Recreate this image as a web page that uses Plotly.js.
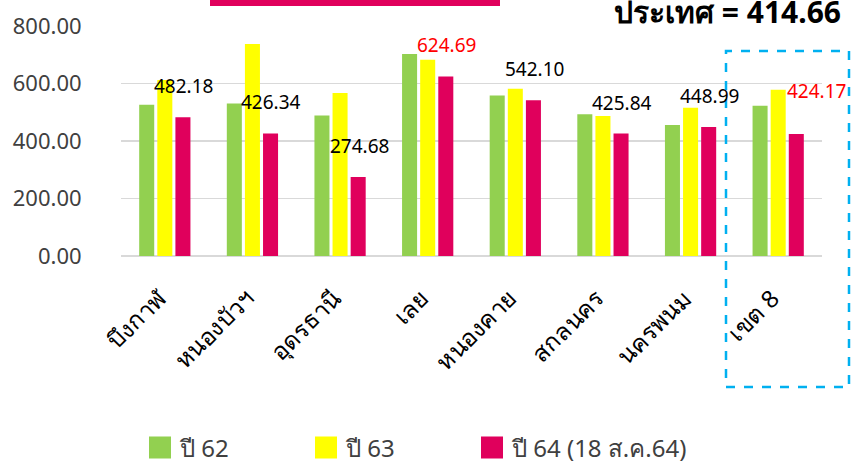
<!DOCTYPE html>
<html>
<head>
<meta charset="utf-8">
<script src="https://cdn.plot.ly/plotly-3.0.1.min.js"></script>
<style>html,body{margin:0;padding:0;background:#fff;}#chart{width:851px;height:463px;}</style>
</head>
<body>
<div id="chart"></div>
<script>
var categories = ["บึงกาฬ", "หนองบัวฯ", "อุดรธานี", "เลย", "หนองคาย", "สกลนคร", "นครพนม", "เขต 8"];
var seriesNames = ["ปี 62", "ปี 63", "ปี 64 (18 ส.ค.64)"];
var y62 = [526, 530, 489, 703, 558, 493, 456, 523];
var y63 = [612, 737, 567, 683, 582, 487, 516, 578];
var y64 = [482.18, 426.34, 274.68, 624.69, 542.10, 425.84, 448.99, 424.17];
var labelColors = ["#000000", "#000000", "#000000", "#FF0000", "#000000", "#000000", "#000000", "#FF0000"];
var countryText = "ประเทศ = 414.66";
var yTicks = [0, 200, 400, 600, 800];

var FONT = "Noto Sans, DejaVu Sans, sans-serif";
var colors = ["#92D050", "#FFFF00", "#E0005C"];
var vals = [y62, y63, y64];
var legendIds = ["legend", "legend2", "legend3"];
var legendX = [140, 306, 472];
var traces = vals.map(function (v, i) {
  return {
    type: "bar", x: categories, y: v, name: seriesNames[i],
    marker: {color: colors[i], line: {width: 0}},
    legend: legendIds[i],
    hoverinfo: "skip"
  };
});

var annotations = categories.map(function (c, i) {
  var last = i === categories.length - 1;
  return {
    x: c, y: y64[i], xref: "x", yref: "y",
    text: y64[i].toFixed(2), showarrow: false,
    xanchor: "center", yanchor: "middle",
    xshift: last ? 38 : 19, yshift: last ? 43 : 31,
    font: {family: FONT, size: 19, color: labelColors[i]}
  };
});
annotations.push({
  xref: "paper", yref: "paper", x: (843 - 121) / 701, y: 1,
  xanchor: "right", yanchor: "top", yshift: 37, showarrow: false,
  text: "<b>" + countryText + "</b>",
  font: {family: FONT, size: 30, color: "#000000"}
});

function legendCfg(px) {
  return {
    orientation: "h", x: (px - 121) / 701, xanchor: "left",
    y: 1 - (448 - 26) / 230, yanchor: "middle",
    font: {family: FONT, size: 24, color: "#404040"},
    bgcolor: "rgba(0,0,0,0)"
  };
}

var layout = {
  width: 851, height: 463,
  margin: {l: 121, r: 29, t: 26, b: 207, autoexpand: false},
  paper_bgcolor: "#ffffff", plot_bgcolor: "#ffffff",
  barmode: "group", bargap: 0.38, bargroupgap: 0.17,
  showlegend: true,
  legend: legendCfg(legendX[0]),
  legend2: legendCfg(legendX[1]),
  legend3: legendCfg(legendX[2]),
  xaxis: {
    type: "category", range: [-0.5, categories.length - 0.5], autorange: false,
    tickangle: -45, showgrid: false, showline: false, zeroline: false,
    automargin: false,
    ticks: "outside", ticklen: 18, tickcolor: "rgba(0,0,0,0)",
    ticklabelshift: -6,
    tickfont: {family: FONT, size: 24, color: "#000000"}
  },
  yaxis: {
    range: [0, 800], autorange: false,
    tickvals: yTicks, ticktext: yTicks.map(function (t) { return t.toFixed(2); }),
    automargin: false,
    showgrid: true, gridcolor: "#d9d9d9", gridwidth: 1.5,
    zeroline: true, zerolinecolor: "#d9d9d9", zerolinewidth: 1.5, showline: false,
    ticks: "outside", ticklen: 34, tickcolor: "rgba(0,0,0,0)",
    tickfont: {family: FONT, size: 22, color: "#404040"}
  },
  annotations: annotations,
  shapes: [
    {type: "rect", xref: "paper", yref: "paper",
     x0: (210 - 121) / 701, x1: (500 - 121) / 701,
     y0: 1 + (26 - 6) / 230, y1: 1 + 30 / 230,
     fillcolor: "#E0005C", line: {width: 0}},
    {type: "rect", xref: "paper", yref: "paper",
     x0: (726 - 121) / 701, x1: (849 - 121) / 701,
     y0: 1 - (387 - 26) / 230, y1: 1 - (51 - 26) / 230,
     fillcolor: "rgba(0,0,0,0)", line: {color: "#00B0F0", width: 2.5, dash: "dash"}}
  ]
};

Plotly.newPlot("chart", traces, layout, {displayModeBar: false, staticPlot: true}).then(function (gd) {
  // enlarge legend swatches to match the reference's larger squares
  var pts = gd.querySelectorAll(".legendpoints path");
  pts.forEach(function (p) {
    p.setAttribute("d", "M11,11H-11V-11H11Z");
    p.style.strokeWidth = "0px";
  });
});
</script>
</body>
</html>
